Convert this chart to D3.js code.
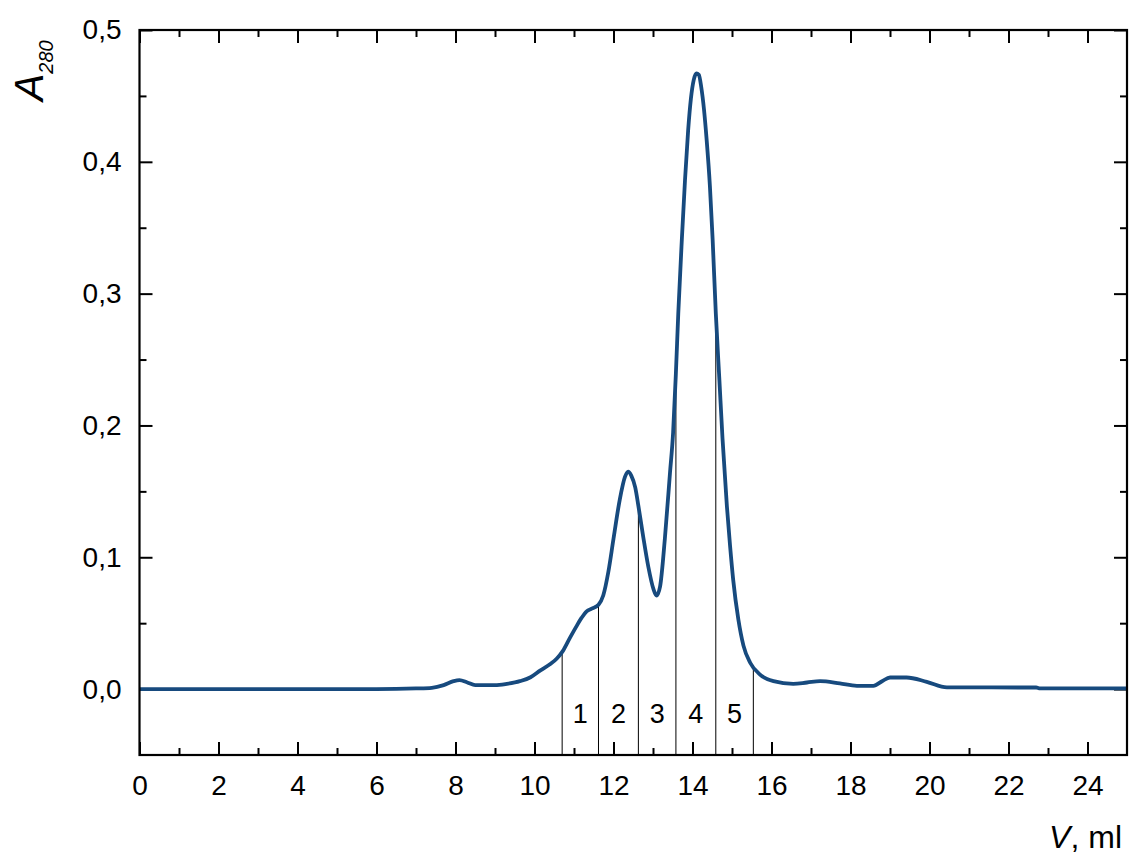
<!DOCTYPE html>
<html>
<head>
<meta charset="utf-8">
<script src="https://cdn.jsdelivr.net/npm/d3@7"></script>
<style>
  body { margin: 0; background: #fff; }
  svg text { font-family: "Liberation Sans", Arial, sans-serif; fill: #000; }
</style>
</head>
<body>
<svg id="chromatogram" width="1130" height="860"></svg>
<script>
// elution volume, ml
let volume = [0, 2, 4, 6, 7.0, 7.4, 7.7, 7.95, 8.1, 8.3, 8.5, 9.0, 9.3, 9.63, 9.9, 10.14, 10.4, 10.56,
    10.72, 10.9, 11.05, 11.19, 11.32, 11.45, 11.62, 11.74, 11.87, 12.0, 12.16, 12.29, 12.37, 12.45,
    12.55, 12.63, 12.75, 12.88, 13.01, 13.09, 13.18, 13.3, 13.43, 13.51, 13.58, 13.64, 13.73, 13.81,
    13.89, 13.96, 14.03, 14.1, 14.16, 14.22, 14.29, 14.36, 14.44, 14.51, 14.59, 14.68, 14.76, 14.87,
    14.95, 15.03, 15.16, 15.29, 15.46, 15.71, 16.05, 16.55, 16.9, 17.23, 17.73, 18.16, 18.58, 18.8,
    19.0, 19.42, 19.93, 20.44, 22.7, 22.8, 25];
// absorbance at 280 nm
let absorbance = [0, 0, 0, 0, 0.0005, 0.001, 0.003, 0.006, 0.0068, 0.005, 0.003, 0.003, 0.004, 0.006,
    0.009, 0.014, 0.019, 0.023, 0.029, 0.039, 0.047, 0.054, 0.059, 0.061, 0.064, 0.071, 0.089, 0.114,
    0.144, 0.161, 0.165, 0.162, 0.153, 0.139, 0.116, 0.093, 0.076, 0.071, 0.078, 0.114, 0.164, 0.195,
    0.24, 0.285, 0.341, 0.386, 0.424, 0.448, 0.462, 0.467, 0.466, 0.457, 0.440, 0.416, 0.382, 0.341,
    0.285, 0.235, 0.19, 0.139, 0.109, 0.083, 0.053, 0.033, 0.02, 0.011, 0.006, 0.004, 0.005, 0.006,
    0.0043, 0.0025, 0.0025, 0.006, 0.0088, 0.0088, 0.0055, 0.0013, 0.0012, 0.0005, 0.0005];

// fraction boundaries and the curve height where each cut line stops
let cutVolume = [10.70, 11.62, 12.63, 13.58, 14.59, 15.54];
let cutHeight = [0.029, 0.064, 0.139, 0.24, 0.285, 0.016];
let fractionNames = ['1', '2', '3', '4', '5'];

let xMajor = [0, 2, 4, 6, 8, 10, 12, 14, 16, 18, 20, 22, 24];
let xMinor = [1, 3, 5, 7, 9, 11, 13, 15, 17, 19, 21, 23];
let yMajor = [0, 0.1, 0.2, 0.3, 0.4, 0.5];
let yMinor = [0.05, 0.15, 0.25, 0.35, 0.45];

let margin = {top: 30, right: 3, bottom: 105, left: 139.5};
let width = 1130 - margin.left - margin.right;
let height = 860 - margin.top - margin.bottom;
let major = 13, minor = 7;

let ruFormat = d3.formatLocale({decimal: ',', thousands: ' ', grouping: [3], currency: ['', '']}).format('.1f');

let svg = d3.select('#chromatogram');
let graph = svg.append('g').attr('transform', 'translate(' + margin.left + ',' + margin.top + ')');

let xScale = d3.scaleLinear().domain([0, 25]).range([0, width]);
let yScale = d3.scaleLinear().domain([-0.05, 0.5]).range([height, 0]);

function styleAxis(g) {
    g.select('.domain').remove();
    g.selectAll('line').attr('stroke', '#000').attr('stroke-width', 2);
    g.selectAll('text').style('font-size', '28px').attr('fill', '#000');
}

// bottom axis with labels
graph.append('g')
    .attr('transform', 'translate(0,' + height + ')')
    .call(d3.axisBottom(xScale).tickValues(xMajor).tickSize(-major).tickSizeOuter(0).tickPadding(20))
    .call(styleAxis);
graph.append('g')
    .attr('transform', 'translate(0,' + height + ')')
    .call(d3.axisBottom(xScale).tickValues(xMinor).tickSize(-minor).tickSizeOuter(0).tickFormat(''))
    .call(styleAxis);
// top mirror
graph.append('g')
    .call(d3.axisTop(xScale).tickValues(xMajor).tickSize(-major).tickSizeOuter(0).tickFormat(''))
    .call(styleAxis);
graph.append('g')
    .call(d3.axisTop(xScale).tickValues(xMinor).tickSize(-minor).tickSizeOuter(0).tickFormat(''))
    .call(styleAxis);
// left axis with labels
graph.append('g')
    .call(d3.axisLeft(yScale).tickValues(yMajor).tickSize(-major).tickSizeOuter(0).tickPadding(18).tickFormat(ruFormat))
    .call(styleAxis);
graph.append('g')
    .call(d3.axisLeft(yScale).tickValues(yMinor).tickSize(-minor).tickSizeOuter(0).tickFormat(''))
    .call(styleAxis);
// right mirror
graph.append('g')
    .attr('transform', 'translate(' + width + ',0)')
    .call(d3.axisRight(yScale).tickValues(yMajor).tickSize(-major).tickSizeOuter(0).tickFormat(''))
    .call(styleAxis);
graph.append('g')
    .attr('transform', 'translate(' + width + ',0)')
    .call(d3.axisRight(yScale).tickValues(yMinor).tickSize(-minor).tickSizeOuter(0).tickFormat(''))
    .call(styleAxis);

// fraction cut lines
graph.append('g')
    .selectAll('line')
    .data(cutVolume)
    .enter()
    .append('line')
    .attr('x1', d => xScale(d))
    .attr('x2', d => xScale(d))
    .attr('y1', height)
    .attr('y2', (d, i) => yScale(cutHeight[i]))
    .attr('stroke', '#000')
    .attr('stroke-width', 1);

graph.append('g')
    .selectAll('text')
    .data(fractionNames)
    .enter()
    .append('text')
    .attr('x', (d, i) => xScale((cutVolume[i] + cutVolume[i + 1]) / 2))
    .attr('y', yScale(-0.0255))
    .attr('text-anchor', 'middle')
    .style('font-size', '27px')
    .text(d => d);

// chromatogram trace
let points = volume.map((v, i) => ({v: v, a: absorbance[i]}));
let line = d3.line()
    .x(d => xScale(d.v))
    .y(d => yScale(d.a))
    .curve(d3.curveMonotoneX);
graph.append('path')
    .datum(points)
    .attr('d', line)
    .attr('fill', 'none')
    .attr('stroke', '#174a7e')
    .attr('stroke-width', 3.8)
    .attr('stroke-linejoin', 'round');

// frame
graph.append('rect')
    .attr('width', width)
    .attr('height', height)
    .attr('fill', 'none')
    .attr('stroke', '#000')
    .attr('stroke-width', 2.2);

// axis titles
let yTitle = svg.append('text')
    .attr('transform', 'translate(43,101) rotate(-90)')
    .style('font-size', '41px');
yTitle.append('tspan').style('font-style', 'italic').text('A');
yTitle.append('tspan').attr('dy', 10).style('font-size', '20px').style('font-style', 'italic').text('280');

let xTitle = svg.append('text')
    .attr('x', 1122)
    .attr('y', 848)
    .attr('text-anchor', 'end')
    .style('font-size', '32px');
xTitle.append('tspan').style('font-style', 'italic').text('V');
xTitle.append('tspan').text(', ml');
</script>
</body>
</html>
